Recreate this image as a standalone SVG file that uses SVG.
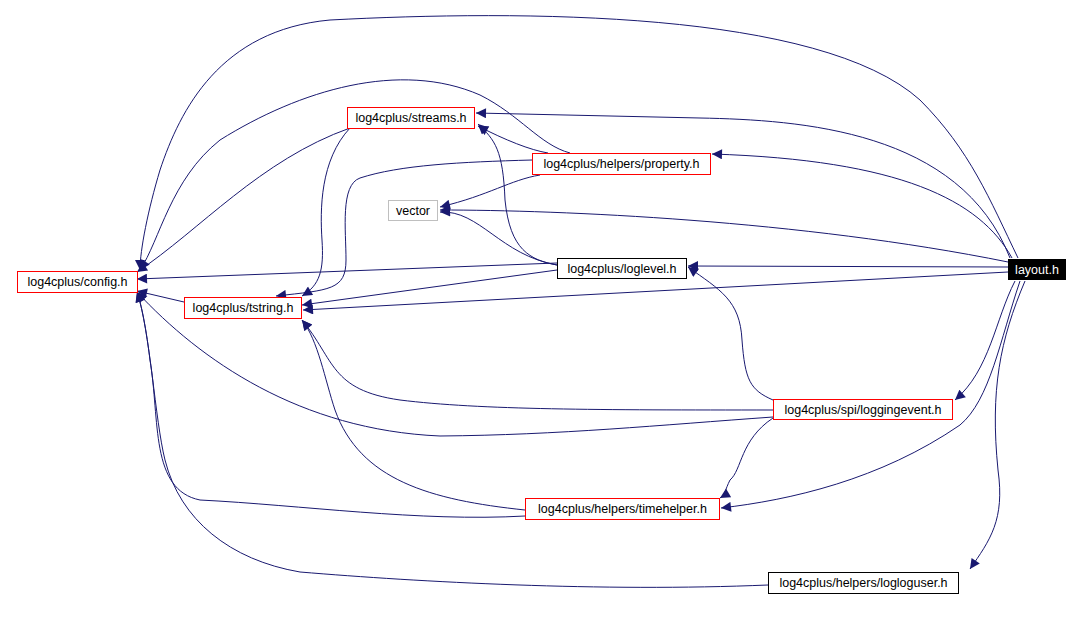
<svg xmlns="http://www.w3.org/2000/svg" width="1081" height="630" viewBox="0 0 1081 630">
<defs>
<marker id="ah" viewBox="0 0 10 10" refX="10" refY="5" markerWidth="12" markerHeight="10" markerUnits="userSpaceOnUse" orient="auto"><path d="M0,0 L10,5 L0,10 z" fill="#191970"/></marker>
<style>
.e{fill:none;stroke:#191970;stroke-width:1;marker-end:url(#ah)}
.n rect{fill:#fff;stroke:#000}
.r rect{stroke:#f00}
.g rect{stroke:#bfbfbf}
text{font-family:"Liberation Sans",Arial,sans-serif;font-size:12.5px;text-anchor:middle}
</style>
</defs>
<rect width="1081" height="630" fill="#fff"/>
<g id="edges">
<path class="e" d="M1018,258 C990,200 970,150 920,100 C820,10 520,10 330,20 C220,30 180,110 160,170 C148,210 140,250 140,270"/>
<path class="e" d="M1010,258 C960,130 800,120 700,118 L476,113"/>
<path class="e" d="M1012,258 C980,200 900,160 712,154"/>
<path class="e" d="M1008,262 C800,220 560,210 440,210"/>
<path class="e" d="M1008,267 L688,266"/>
<path class="e" d="M1008,272 L303,310"/>
<path class="e" d="M1015,281 C995,320 990,370 955,400"/>
<path class="e" d="M1020,281 C1000,340 990,400 960,425 C880,480 790,500 721,508"/>
<path class="e" d="M1025,281 C1000,340 990,390 998,470 C1005,520 990,540 970,569"/>
<path class="e" d="M350,128 C260,160 200,230 137,272"/>
<path class="e" d="M350,128 C320,160 320,210 322,240 C324,270 320,285 302,296"/>
<path class="e" d="M570,153 C540,145 520,115 480,95 C400,60 300,90 220,140 C170,180 160,240 140,270"/>
<path class="e" d="M548,153 C530,150 505,140 478,126"/>
<path class="e" d="M540,175 C510,180 490,195 440,207"/>
<path class="e" d="M532,160 C460,162 400,165 360,178 C340,185 346,230 346,260 C346,290 330,290 276,296"/>
<path class="e" d="M557,263 L137,279"/>
<path class="e" d="M557,270 L302,305"/>
<path class="e" d="M557,265 C530,260 510,250 505,200 C503,150 495,140 478,124"/>
<path class="e" d="M557,265 C500,255 480,210 440,212"/>
<path class="e" d="M184,302 L137,291"/>
<path class="e" d="M773,400 C750,390 745,380 742,340 C740,300 720,290 688,267"/>
<path class="e" d="M773,410 C600,410 480,410 400,400 C330,390 335,360 302,320"/>
<path class="e" d="M773,417 C660,425 560,435 440,436 C300,430 200,360 137,292"/>
<path class="e" d="M773,418 C740,440 742,470 730,480 C725,490 725,495 720,498"/>
<path class="e" d="M525,510 C430,500 360,480 335,410 C325,380 318,340 302,320"/>
<path class="e" d="M525,516 C420,522 300,505 200,500 C150,490 160,420 150,360 C145,320 140,300 137,292"/>
<path class="e" d="M768,585 C600,592 420,582 300,572 C230,560 180,520 165,460 C155,420 150,330 137,292"/>
</g>
<g id="config" class="n r"><rect x="17.5" y="271.5" width="120" height="21"/><text x="77.5" y="286">log4cplus/config.h</text></g>
<g id="streams" class="n r"><rect x="347.5" y="107.5" width="127" height="21"/><text x="411" y="122">log4cplus/streams.h</text></g>
<g id="property" class="n r"><rect x="532.5" y="153.5" width="178" height="21"/><text x="621.5" y="168">log4cplus/helpers/property.h</text></g>
<g id="vector" class="n g"><rect x="388.5" y="200.5" width="49" height="20"/><text x="413" y="215">vector</text></g>
<g id="loglevel" class="n"><rect x="557.5" y="258.5" width="129" height="20"/><text x="622" y="273">log4cplus/loglevel.h</text></g>
<g id="tstring" class="n r"><rect x="184.5" y="297.5" width="117" height="21"/><text x="243" y="312">log4cplus/tstring.h</text></g>
<g id="layout"><rect x="1008" y="259" width="58" height="21" fill="#000"/><text x="1037" y="274" fill="#fff">layout.h</text></g>
<g id="loggingevent" class="n r"><rect x="773.5" y="399.5" width="179" height="20"/><text x="863" y="414">log4cplus/spi/loggingevent.h</text></g>
<g id="timehelper" class="n r"><rect x="525.5" y="498.5" width="194" height="21"/><text x="622.5" y="513">log4cplus/helpers/timehelper.h</text></g>
<g id="logloguser" class="n"><rect x="768.5" y="572.5" width="190" height="21"/><text x="863.5" y="587">log4cplus/helpers/logloguser.h</text></g>
</svg>
